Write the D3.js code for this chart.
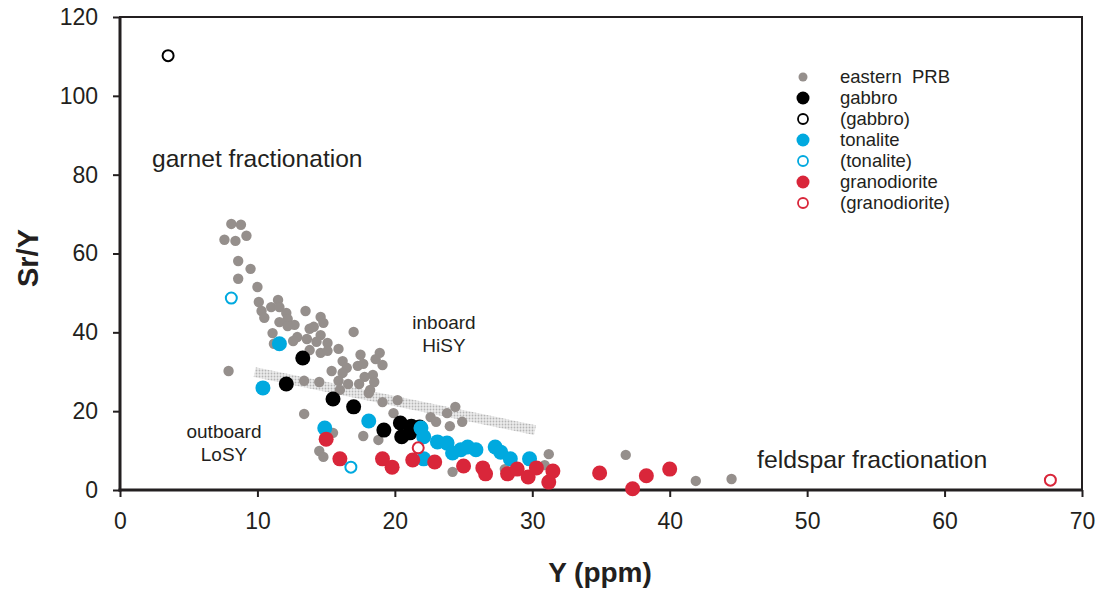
<!DOCTYPE html>
<html>
<head>
<meta charset="utf-8">
<script src="https://cdn.jsdelivr.net/npm/d3@7"></script>
<style>
  html, body { margin: 0; padding: 0; background: #fff; }
  svg { display: block; font-family: "Liberation Sans", Arial, Helvetica, sans-serif; }
</style>
</head>
<body>
<svg width="1099" height="590"></svg>
<script>
// Y (ppm), Sr/Y pairs
const easternPRB = [
  [8.1, 67.5], [8.8, 67.3], [7.6, 63.5], [8.4, 63.2], [9.2, 64.5], [8.6, 58.1], [9.5, 56.1],
  [8.6, 53.6], [10.0, 51.5], [10.1, 47.7], [11.5, 48.2], [11.0, 46.4], [10.3, 45.4], [11.6, 46.4],
  [12.1, 44.9], [10.5, 43.7], [12.2, 43.4], [13.5, 45.4], [11.6, 42.6], [14.6, 43.9], [14.8, 42.4],
  [12.7, 41.9], [12.2, 41.6], [13.8, 40.9], [14.1, 41.4], [17.0, 40.1], [11.1, 39.8], [12.9, 38.8],
  [13.6, 38.3], [14.6, 39.3], [12.6, 37.8], [14.3, 37.6], [15.1, 37.3], [11.2, 37.1], [15.9, 35.8],
  [13.8, 35.5], [14.6, 34.8], [15.1, 35.3], [17.5, 34.3], [18.9, 34.8], [16.2, 32.7], [17.3, 31.5],
  [17.7, 32.0], [19.1, 31.7], [18.6, 33.2], [16.5, 31.0], [15.4, 30.2], [16.2, 29.7], [7.9, 30.2],
  [18.4, 29.2], [17.8, 28.7], [13.4, 27.7], [14.5, 27.4], [15.9, 27.7], [16.6, 26.9], [17.4, 26.9],
  [18.1, 24.6], [19.1, 22.3], [16.0, 25.4], [20.2, 22.8], [18.5, 27.4], [18.2, 25.4], [19.9, 19.5],
  [24.4, 21.1], [23.8, 19.5], [22.6, 18.5], [23.0, 17.3], [24.0, 16.2], [24.9, 17.3], [13.4, 19.3],
  [15.5, 14.5], [17.7, 13.7], [18.8, 12.7], [14.5, 9.9], [14.8, 8.4], [24.2, 4.6], [28.0, 5.3],
  [31.2, 9.1], [30.9, 6.3], [36.8, 8.9], [41.9, 2.3], [44.5, 2.8]
];
const gabbro = [
  [13.3, 33.5], [12.1, 26.9], [15.5, 23.1], [17.0, 21.1], [19.2, 15.2], [20.4, 17.0],
  [21.2, 16.2], [20.5, 13.5], [21.1, 14.5], [21.8, 16.0]
];
const gabbroOpen = [[3.5, 110.2]];
const tonalite = [
  [10.4, 25.9], [11.6, 37.1], [14.9, 15.7], [18.1, 17.5], [21.9, 15.7], [22.1, 13.5], [22.1, 7.9],
  [23.1, 12.2], [23.8, 11.9], [24.2, 9.4], [24.8, 10.2], [25.3, 10.9], [25.9, 10.2], [27.3, 10.9],
  [27.7, 9.6], [28.4, 7.9], [29.8, 7.9]
];
const tonaliteOpen = [[8.1, 48.7], [16.8, 5.8]];
const granodiorite = [
  [15.0, 12.9], [16.0, 7.9], [19.1, 7.9], [19.8, 5.8], [21.3, 7.6], [22.9, 7.1], [25.0, 6.1],
  [26.4, 5.6], [26.6, 4.1], [28.2, 4.1], [28.9, 5.3], [29.7, 3.3], [30.3, 5.6], [31.2, 2.0],
  [31.5, 4.8], [34.9, 4.3], [37.3, 0.3], [38.3, 3.6], [40.0, 5.3]
];
const granodioriteOpen = [[21.7, 10.7], [67.7, 2.5]];

// stippled trend band (start, end)
const bandEnds = [[9.8, 29.9], [30.2, 15.2]];

const xTicks = [0, 10, 20, 30, 40, 50, 60, 70];
const yTicks = [0, 20, 40, 60, 80, 100, 120];

const legendItems = [
  { label: "eastern  PRB", color: "#958f8c", open: false, r: 4.5 },
  { label: "gabbro", color: "#000000", open: false, r: 6.5 },
  { label: "(gabbro)", color: "#000000", open: true, r: 5 },
  { label: "tonalite", color: "#00a9df", open: false, r: 6.5 },
  { label: "(tonalite)", color: "#00a9df", open: true, r: 5 },
  { label: "granodiorite", color: "#d9263a", open: false, r: 6.5 },
  { label: "(granodiorite)", color: "#d9263a", open: true, r: 5 }
];

const svg = d3.select("svg");
const ink = "#231f20";

const x = d3.scaleLinear().domain([0, 70]).range([120, 1082]);
const y = d3.scaleLinear().domain([0, 120]).range([490, 17]);

// band pattern
const defs = svg.append("defs");
const pat = defs.append("pattern")
  .attr("id", "stipple")
  .attr("patternUnits", "userSpaceOnUse")
  .attr("width", 3).attr("height", 3);
pat.append("rect").attr("width", 3).attr("height", 3).attr("fill", "#ececec");
pat.append("circle").attr("cx", 1.5).attr("cy", 1.5).attr("r", 0.9).attr("fill", "#b5b5b5");

svg.append("line")
  .attr("x1", x(bandEnds[0][0])).attr("y1", y(bandEnds[0][1]))
  .attr("x2", x(bandEnds[1][0])).attr("y2", y(bandEnds[1][1]))
  .attr("stroke", "url(#stipple)")
  .attr("stroke-width", 10);

// axes
const xAxis = svg.append("g")
  .attr("transform", `translate(0,${y(0)})`)
  .call(d3.axisBottom(x).tickValues(xTicks).tickSize(7).tickPadding(16));
const yAxis = svg.append("g")
  .attr("transform", `translate(${x(0)},0)`)
  .call(d3.axisLeft(y).tickValues(yTicks).tickSize(7).tickPadding(15));

[xAxis, yAxis].forEach(g => {
  g.select(".domain").remove();
  g.selectAll(".tick line").attr("stroke", ink).attr("stroke-width", 2);
  g.selectAll(".tick text")
    .attr("fill", ink)
    .style("font-size", "23px")
    .style("font-family", "'Liberation Sans', Arial, sans-serif");
});

// frame
svg.append("rect")
  .attr("x", x(0)).attr("y", y(120))
  .attr("width", x(70) - x(0)).attr("height", y(0) - y(120))
  .attr("fill", "none").attr("stroke", ink).attr("stroke-width", 2);
svg.append("line")
  .attr("x1", x(0)).attr("x2", x(0)).attr("y1", y(120)).attr("y2", y(0) + 1.5)
  .attr("stroke", ink).attr("stroke-width", 3);
svg.append("line")
  .attr("x1", x(0) - 1.5).attr("x2", x(70)).attr("y1", y(0)).attr("y2", y(0))
  .attr("stroke", ink).attr("stroke-width", 3);

// points
function dots(data, color, r, open) {
  svg.append("g")
    .selectAll("circle")
    .data(data)
    .enter()
    .append("circle")
    .attr("cx", d => x(d[0]))
    .attr("cy", d => y(d[1]))
    .attr("r", r)
    .attr("fill", open ? "none" : color)
    .attr("stroke", open ? color : "none")
    .attr("stroke-width", open ? 2 : 0);
}

dots(easternPRB, "#958f8c", 5.2, false);
dots(gabbro, "#000000", 7.5, false);
dots(tonalite, "#00a9df", 7.5, false);
dots(granodiorite, "#d9263a", 7.5, false);
dots(gabbroOpen, "#000000", 5.5, true);
dots(tonaliteOpen, "#00a9df", 5.5, true);
dots(granodioriteOpen, "#d9263a", 5.5, true);

// legend
const legend = svg.append("g").attr("transform", "translate(803,77)");
const row = legend.selectAll("g")
  .data(legendItems)
  .enter()
  .append("g")
  .attr("transform", (d, i) => `translate(0,${i * 21})`);
row.append("circle")
  .attr("r", d => d.r)
  .attr("fill", d => d.open ? "none" : d.color)
  .attr("stroke", d => d.open ? d.color : "none")
  .attr("stroke-width", 1.8);
row.append("text")
  .attr("x", 37)
  .attr("dy", "0.35em")
  .attr("fill", ink)
  .style("font-size", "18.5px")
  .style("white-space", "pre")
  .attr("xml:space", "preserve")
  .text(d => d.label);

// annotations
function note(lines, cx, cy, size, anchor) {
  const t = svg.append("text")
    .attr("fill", ink)
    .attr("text-anchor", anchor)
    .style("font-size", size + "px");
  lines.forEach((s, i) => {
    t.append("tspan").attr("x", cx).attr("y", cy + i * size * 1.2).text(s);
  });
}
note(["garnet fractionation"], 152, 167, 24.6, "start");
note(["feldspar fractionation"], 757, 468, 24.8, "start");
note(["inboard", "HiSY"], 444, 329, 19, "middle");
note(["outboard", "LoSY"], 224, 438, 19, "middle");

// axis titles
svg.append("text")
  .attr("x", 600).attr("y", 582)
  .attr("text-anchor", "middle")
  .attr("fill", ink)
  .style("font-size", "28px").style("font-weight", "bold")
  .text("Y (ppm)");
svg.append("text")
  .attr("transform", "translate(38,258) rotate(-90)")
  .attr("text-anchor", "middle")
  .attr("fill", ink)
  .style("font-size", "29px").style("font-weight", "bold")
  .text("Sr/Y");
</script>
</body>
</html>
